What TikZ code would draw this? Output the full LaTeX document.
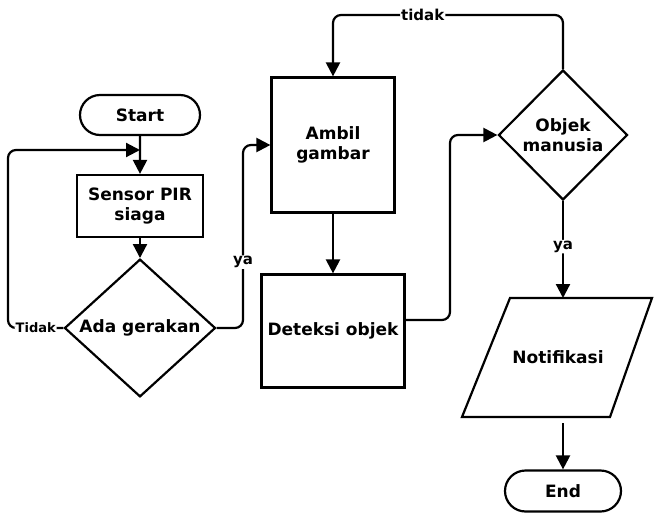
\documentclass[tikz,border=0pt]{standalone}
\usepackage{fontspec}
\setmainfont{DejaVu Sans}
\usepackage{tikz}
\usetikzlibrary{shapes.geometric,shapes.misc,arrows.meta}

\begin{document}
\begin{tikzpicture}[x=1pt,y=-1pt,
      line width=2.2pt,
      font=\fontsize{17}{20}\selectfont\bfseries,
      arr/.style={-{Triangle[length=14pt,width=14pt]},rounded corners=8pt},
      lbl/.style={fill=white,inner sep=1pt,font=\fontsize{15}{17}\selectfont\bfseries},
      terminal/.style={draw,rounded rectangle,minimum width=120pt,minimum height=40pt,inner sep=0pt},
      process/.style={draw,rectangle,align=center,inner sep=0pt},
      decision/.style={draw,diamond,align=center,inner sep=0pt}
      ]
      \useasboundingbox (0,0) rectangle (654,512);
      \node[terminal] (start) at (140,115) {Start};
      \node[process,minimum width=126pt,minimum height=62pt] (sensor) at (140,206) {Sensor PIR\\siaga};
      \node[decision,minimum width=151pt,minimum height=117pt] (ada) at (140,328) {Ada gerakan};
      \node[process,minimum width=123pt,minimum height=135pt] (ambil) at (333,145) {Ambil\\gambar};
      \node[process,minimum width=143pt,minimum height=113pt] (deteksi) at (333,331) {Deteksi objek};
      \node[decision,minimum width=129pt,minimum height=130pt] (objek) at (563,135) {Objek\\manusia};
      \draw (510,298) -- (652,298) -- (610,417) -- (462,417) -- cycle;
      \node (notif) at (558,357) {Notifikasi};
      \node[terminal,minimum width=116pt,minimum height=41pt] (end) at (563,491) {End};
      \coordinate (loopin) at (140,150);
      \coordinate (notiftop) at (563,298);
      \coordinate (notifbot) at (563,423);
      % \node at (ada.south) {x};
      \draw[arr] (start) -- (sensor);
      \draw[arr] (sensor) -- (ada);
      \draw[arr] (ada.west) -- node[lbl,pos=0.5,font=\fontsize{13}{15}\selectfont\bfseries]{Tidak} (8,328) -- (8,150) -- (loopin);
      \draw[arr] (ada.east) -- (243,328) -- node[lbl,pos=0.36]{ya} (243,145) -- (ambil.west);
      \draw[arr] (ambil) -- (deteksi);
      \draw[arr] ([yshift=11pt]deteksi.east) -- (450,320) -- (450,135) -- (objek.west);
      \draw[arr] (objek.north) -- (563,15) -- node[lbl,pos=0.61]{tidak} (333,15) -- (ambil.north);
      \draw[arr] (objek.south) -- node[lbl,pos=0.47]{ya} (notiftop);
      \draw[arr] (notifbot) -- (end.north);
\end{tikzpicture}
\end{document}
